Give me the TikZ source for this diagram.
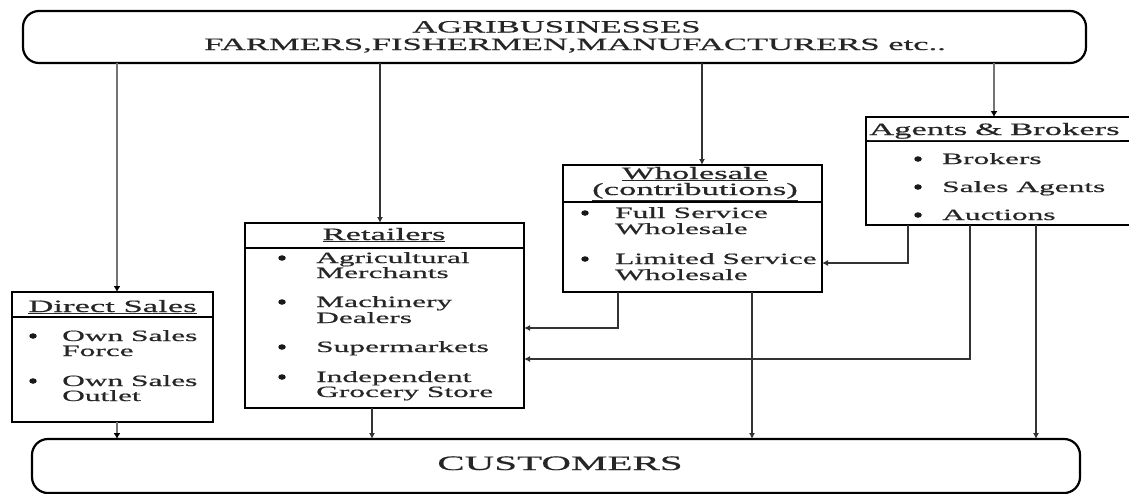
\documentclass[tikz,border=0pt]{standalone}
\usepackage{fontspec}
\setmainfont{Liberation Serif}[FakeStretch=2.0,FakeBold=0.6]
\usetikzlibrary{arrows.meta,shapes.geometric}
\newcommand{\bodyf}{\fontsize{15.7}{16}\selectfont}
\newcommand{\ttlf}{\fontsize{17.3}{18}\selectfont}
\newcommand{\custf}{\fontsize{20.5}{22}\selectfont}
\begin{document}
\begin{tikzpicture}[x=1pt,y=-1pt,
  box/.style={draw=black, line width=2.6pt, inner sep=0pt, outer sep=0pt, anchor=north west},
  rbox/.style={draw=black, line width=2.2pt, rounded corners=16pt, inner sep=0pt, outer sep=0pt, anchor=north west},
  divider/.style={draw=black, line width=1.9pt},
  conn/.style={draw=black!80, line width=1.3pt, -{Latex[length=6pt,width=6pt]}},
  gconn/.style={draw=black!55, line width=2.6pt, -{Latex[length=6pt,width=7pt,fill=black,color=black]}},
  body/.style={font=\bodyf, text=black!85, inner sep=0pt, anchor=base west},
  ttl/.style={font=\ttlf, text=black!85, inner sep=0pt, anchor=base},
  toptxt/.style={font=\ttlf, text=black!85, inner sep=0pt, anchor=base west},
  custtxt/.style={font=\custf, text=black!85, inner sep=0pt, anchor=base},
  bul/.style={ellipse, fill=black!90, inner sep=0pt, minimum width=7.5pt, minimum height=5.5pt}]
\path[use as bounding box, clip] (0,0) rectangle (1129,493);
\fill[white] (0,0) rectangle (1129,493);

% boxes
\node[rbox, minimum width=1063pt, minimum height=52pt] (agri) at (23,11) {};
\node[rbox, minimum width=1048pt, minimum height=54pt] (cust) at (32,439) {};
\node[box, minimum width=201pt, minimum height=130pt] (ds) at (12,292) {};
\node[box, minimum width=279pt, minimum height=185pt] (ret) at (245,223) {};
\node[box, minimum width=259pt, minimum height=127pt] (wh) at (563,165) {};
\node[box, minimum width=280pt, minimum height=108pt] (ag) at (866,117) {};

% dividers
\draw[divider] ([yshift=-25pt]ds.north west) -- ([yshift=-25pt]ds.north east);
\draw[divider] ([yshift=-25pt]ret.north west) -- ([yshift=-25pt]ret.north east);
\draw[divider] ([yshift=-37pt]wh.north west) -- ([yshift=-37pt]wh.north east);
\draw[divider] ([yshift=-24pt]ag.north west) -- ([yshift=-24pt]ag.north east);

% column / row helper coordinates
\coordinate (k117) at (117,0);
\coordinate (k372) at (372,0);
\coordinate (k380) at (380,0);
\coordinate (k618) at (618,0);
\coordinate (k702) at (702,0);
\coordinate (k752) at (752,0);
\coordinate (k908) at (908,0);
\coordinate (k970) at (970,0);
\coordinate (k994) at (994,0);
\coordinate (k1036) at (1036,0);
\coordinate (r263) at (0,263);
\coordinate (r328) at (0,328);
\coordinate (r359) at (0,359);

% connectors
\draw[gconn] (agri.south -| k117) -- (ds.north -| k117);
\draw[conn] (agri.south -| k380) -- (ret.north -| k380);
\draw[conn] (agri.south -| k702) -- (wh.north -| k702);
\draw[gconn] (agri.south -| k994) -- (ag.north -| k994);
\draw[gconn] (ds.south -| k117) -- (cust.north -| k117);
\draw[conn] (ret.south -| k372) -- (cust.north -| k372);
\draw[conn] (wh.south -| k752) -- (cust.north -| k752);
\draw[conn] (wh.south -| k618) |- (ret.east |- r328);
\draw[conn] (ag.south -| k908) |- (wh.east |- r263);
\draw[conn] (ag.south -| k970) |- (ret.east |- r359);
\draw[conn] (ag.south -| k1036) -- (cust.north -| k1036);

% top and bottom texts
\node[toptxt] (t1) at (412,32.5) {AGRIBUSINESSES};
\node[toptxt] (t2) at (204,50) {FARMERS,FISHERMEN,MANUFACTURERS etc..};
\node[custtxt] (ct) at (560,470) {CUSTOMERS};

% Direct Sales
\node[ttl] (dst) at (112.5,312) {\underline{Direct Sales}};
\node[bul] (dsb1) at (33,336) {};
\node[bul] (dsb2) at (33,381) {};
\node[body] (ds1) at (62,341) {Own Sales};
\node[body] (ds2) at (62,356) {Force};
\node[body] (ds3) at (62,386) {Own Sales};
\node[body] (ds4) at (62,401) {Outlet};

% Retailers
\node[ttl] (rtt) at (384,240) {\underline{Retailers}};
\node[bul] (rb1) at (282,258) {};
\node[bul] (rb2) at (282,302) {};
\node[bul] (rb3) at (282,347) {};
\node[bul] (rb4) at (282,377) {};
\node[body] (r1) at (316,263) {Agricultural};
\node[body] (r2) at (316,278) {Merchants};
\node[body] (r3) at (316,307) {Machinery};
\node[body] (r4) at (316,323) {Dealers};
\node[body] (r5) at (316,352) {Supermarkets};
\node[body] (r6) at (316,382) {Independent};
\node[body] (r7) at (316,397) {Grocery Store};

% Wholesale
\node[ttl] (wt1) at (695,179) {\underline{Wholesale}};
\node[ttl] (wt2) at (695,195) {\underline{(contributions)}};
\node[bul] (wb1) at (585,213) {};
\node[bul] (wb2) at (585,259) {};
\node[body] (w1) at (615,218) {Full Service};
\node[body] (w2) at (615,234) {Wholesale};
\node[body] (w3) at (615,264) {Limited Service};
\node[body] (w4) at (615,280) {Wholesale};

% Agents & Brokers
\node[toptxt] (agt) at (869,135) {\underline{Agents\hspace{8pt}\&\hspace{8pt}Brokers}};
\node[bul] (ab1) at (918,159) {};
\node[bul] (ab2) at (918,187) {};
\node[bul] (ab3) at (918,215) {};
\node[body] (a1) at (942,164) {Brokers};
\node[body] (a2) at (942,192) {Sales Agents};
\node[body] (a3) at (942,220) {Auctions};
\end{tikzpicture}
\end{document}
